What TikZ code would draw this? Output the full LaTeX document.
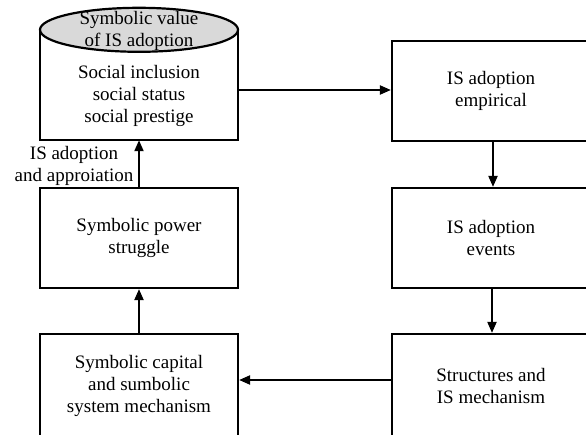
\documentclass[tikz,border=0pt]{standalone}
\usepackage{fontspec}
\setmainfont{Liberation Serif}
\usetikzlibrary{arrows.meta,positioning,calc}
\definecolor{capgrey}{HTML}{D9D9D9}
\tikzset{
  boxline/.style={draw=black,line width=2.2pt},
  stagebox/.style={boxline,minimum width=198pt,minimum height=100pt,align=center,inner sep=0pt},
  bodytext/.style={minimum width=198pt,minimum height=88pt,align=center,inner sep=0pt},
  flowarrow/.style={-{Triangle[length=11pt,width=9pt]},line width=2pt},
  capfill/.style={boxline,fill=capgrey}
}
\begin{document}
\begin{tikzpicture}[x=1pt,y=1pt,font=\fontsize{19}{22}\selectfont]
\useasboundingbox (0,0) rectangle (586,434);
\begin{scope}
\clip (0,0) rectangle (586,434);
% left column
\node[bodytext] (value) at (139,338) {Social inclusion\\social status\\social prestige};
\draw[boxline] ([yshift=22pt]value.north west) |- (value.south east) -- ([yshift=22pt]value.north east);
\draw[capfill] ([yshift=22pt]value.north) ellipse [x radius=99, y radius=22];
\node[align=center] (cap) at ([yshift=21pt]value.north) {Symbolic value\\of IS adoption};
\node[stagebox] (power) at (139,196) {Symbolic power\\struggle};
\node[stagebox,minimum height=104pt] (capital) at (139,48) {Symbolic capital\\and sumbolic\\system mechanism};
% right column
\node[stagebox] (empirical) at (491,343) {IS adoption\\empirical};
\node[stagebox] (events) at (491,196) {IS adoption\\events};
\node[stagebox,minimum height=104pt] (structures) at (491,48) {Structures and\\IS mechanism};
\end{scope}
% connectors
\coordinate (topflow) at ([yshift=6pt]value.east);
\draw[flowarrow] (topflow) -- (topflow -| empirical.west);
\draw[flowarrow] ([xshift=2pt]empirical.south) -- ([xshift=2pt]events.north);
\draw[flowarrow] ([xshift=1pt]events.south) -- ([xshift=1pt]structures.north);
\coordinate (lowflow) at ([yshift=6pt]structures.west);
\draw[flowarrow] (lowflow) -- (lowflow -| capital.east);
\draw[flowarrow] (capital.north) -- (power.south);
\draw[flowarrow] (power.north) -- (value.south);
\node[align=center] (adoptlabel) at (74,268) {IS adoption\\and approiation};
\end{tikzpicture}
\end{document}
